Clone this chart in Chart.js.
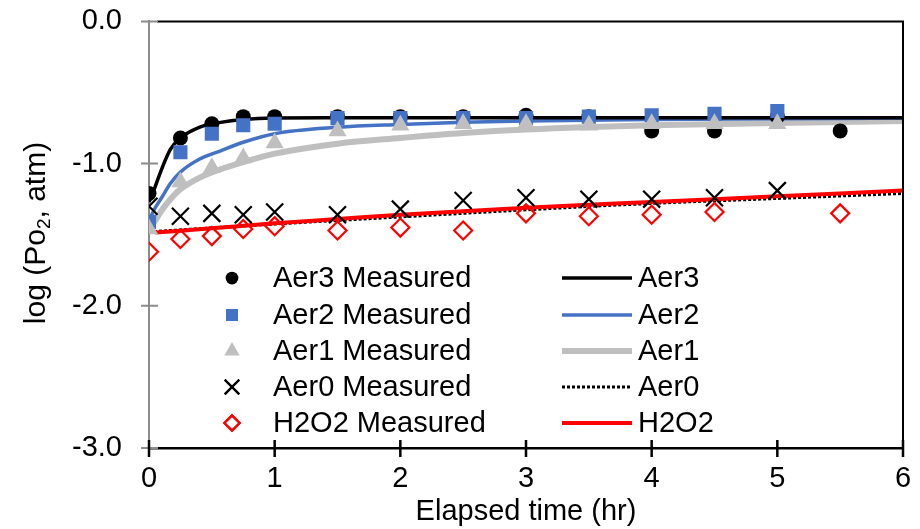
<!DOCTYPE html>
<html>
<head>
<meta charset="utf-8">
<script src="https://cdn.jsdelivr.net/npm/chart.js@4.4.1/dist/chart.umd.min.js"></script>
<style>
  html, body { margin: 0; padding: 0; background: #fff; }
  #wrap { width: 920px; height: 529px; }
</style>
</head>
<body>
<div id="wrap"><canvas id="chart"></canvas></div>
<script>
// Measured log(Po2) values.
const measTime = [0, 0.25, 0.5, 0.75, 1, 1.5, 2, 2.5, 3, 3.5, 4, 4.5, 5, 5.5];
const aer3Meas = [-1.21, -0.82, -0.72, -0.67, -0.67, -0.67, -0.67, -0.67, -0.66, -0.67, -0.77, -0.77, -0.67, -0.77];
const aer2Meas = [-1.41, -0.92, -0.79, -0.73, -0.72, -0.68, -0.68, -0.68, -0.68, -0.67, -0.66, -0.65, -0.63];
const aer1Meas = [-1.46, -1.13, -1.03, -0.96, -0.855, -0.77, -0.73, -0.72, -0.72, -0.73, -0.72, -0.72, -0.72];
const aer0Meas = [-1.30, -1.37, -1.35, -1.36, -1.34, -1.36, -1.32, -1.26, -1.24, -1.25, -1.25, -1.24, -1.19];
const h2o2Time = [0, 0.25, 0.5, 0.75, 1, 1.5, 2, 2.5, 3, 3.5, 4, 4.5, 5.5];
const h2o2Meas = [-1.62, -1.53, -1.51, -1.46, -1.44, -1.47, -1.45, -1.47, -1.35, -1.37, -1.36, -1.34, -1.35];

// Model curves.
const fitTime = [0, 0.05, 0.1, 0.17, 0.25, 0.4, 0.57, 0.75, 1, 1.5, 2, 2.5, 3, 4, 5, 6];
const aer3Fit = [-1.27, -1.16, -1.04, -0.90, -0.82, -0.745, -0.71, -0.69, -0.68, -0.678, -0.678, -0.678, -0.678, -0.678, -0.678, -0.678];
const aer2Fit = [-1.40, -1.31, -1.24, -1.14, -1.06, -0.97, -0.91, -0.85, -0.79, -0.745, -0.725, -0.71, -0.70, -0.69, -0.685, -0.68];
const aer1Fit = [-1.47, -1.40, -1.33, -1.25, -1.18, -1.10, -1.04, -0.99, -0.93, -0.86, -0.82, -0.785, -0.76, -0.73, -0.715, -0.70];
const aer0Time = [0, 1, 2, 3, 4, 5, 6];
const aer0Fit = [-1.48, -1.425, -1.375, -1.325, -1.28, -1.245, -1.21];
const h2o2FitTime = [0.05, 0.5, 1, 1.5, 2, 3, 4, 5, 6];
const h2o2Fit = [-1.485, -1.455, -1.42, -1.39, -1.36, -1.31, -1.27, -1.23, -1.19];

const xTicks = [0, 1, 2, 3, 4, 5, 6];
const yTicks = [0, -1, -2, -3];

const FONT = "'Liberation Sans', Arial, sans-serif";
const BLUE = '#4472c4';
const GRAY = '#bfbfbf';
const RED = '#ff0000';

const pts = (xs, ys) => ys.map((y, i) => ({ x: xs[i], y }));

const marker = (label, xs, ys, style, color, radius, order, hollow) => ({
  label,
  data: pts(xs, ys),
  showLine: false,
  pointStyle: style,
  pointRadius: radius,
  pointHoverRadius: radius,
  pointBackgroundColor: hollow ? 'rgba(0,0,0,0)' : color,
  pointBorderColor: color,
  pointBorderWidth: hollow || style === 'crossRot' ? 2.2 : 0,
  order,
});

const curve = (label, xs, ys, color, width, order, dash) => ({
  label,
  data: pts(xs, ys),
  showLine: true,
  borderColor: color,
  borderWidth: width,
  borderDash: dash || [],
  pointRadius: 0,
  pointHoverRadius: 0,
  cubicInterpolationMode: 'monotone',
  order,
});

const datasets = [
  marker('Aer3 Measured', measTime, aer3Meas, 'circle', '#000', 7.5, 5),
  marker('Aer2 Measured', measTime, aer2Meas, 'rect', BLUE, 10, 4),
  marker('Aer1 Measured', measTime, aer1Meas, 'triangle', GRAY, 10.5, 3),
  marker('Aer0 Measured', measTime, aer0Meas, 'crossRot', '#000', 12, 2),
  marker('H2O2 Measured', h2o2Time, h2o2Meas, 'rectRot', RED, 9, 1, true),
  curve('Aer3', fitTime, aer3Fit, '#000', 3.5, 7),
  curve('Aer2', fitTime, aer2Fit, BLUE, 3.5, 8),
  curve('Aer1', fitTime, aer1Fit, GRAY, 6, 9),
  curve('Aer0', aer0Time, aer0Fit, '#000', 3, 10, [3, 2]),
  curve('H2O2', h2o2FitTime, h2o2Fit, RED, 4, 6),
];

// Cross ticks, top/right frame, y title with subscript, two-column legend.
const decorations = {
  id: 'decorations',
  afterDraw(chart) {
    const { ctx, chartArea: a, scales: { x, y } } = chart;
    ctx.save();
    ctx.lineWidth = 2;
    ctx.strokeStyle = '#000';
    ctx.beginPath();
    ctx.moveTo(a.left + 8, a.top); ctx.lineTo(a.right, a.top); ctx.lineTo(a.right, a.bottom);
    ctx.stroke();
    ctx.strokeStyle = '#8c8c8c';
    ctx.beginPath();
    for (const v of yTicks) {
      const py = y.getPixelForValue(v);
      ctx.moveTo(a.left - 8, py); ctx.lineTo(a.left + 9, py);
    }
    ctx.stroke();
    ctx.strokeStyle = '#000';
    ctx.lineWidth = 2.5;
    ctx.beginPath();
    for (const v of xTicks) {
      const px = x.getPixelForValue(v);
      ctx.moveTo(px, a.bottom - 8); ctx.lineTo(px, a.bottom + 9);
    }
    ctx.stroke();

    // y title
    ctx.fillStyle = '#000';
    ctx.translate(37, 233);
    ctx.rotate(-Math.PI / 2);
    ctx.textBaseline = 'middle';
    const big = `30px ${FONT}`, small = `19px ${FONT}`;
    const parts = [['log (Po', big, 0], ['2', small, 8], [', atm)', big, 0]];
    let w = 0;
    for (const [t, f] of parts) { ctx.font = f; w += ctx.measureText(t).width; }
    let cx = -w / 2;
    for (const [t, f, dy] of parts) {
      ctx.font = f;
      ctx.fillText(t, cx, dy);
      cx += ctx.measureText(t).width;
    }
    ctx.setTransform(1, 0, 0, 1, 0, 0);

    // legend
    const rowY = [278, 315, 351, 387, 423];
    ctx.font = `29px ${FONT}`;
    ctx.textBaseline = 'middle';
    ctx.textAlign = 'left';
    for (let i = 0; i < 5; i++) {
      const m = chart.data.datasets[i];
      ctx.fillStyle = m.pointBackgroundColor;
      ctx.strokeStyle = m.pointBorderColor;
      ctx.lineWidth = m.pointBorderWidth;
      Chart.helpers.drawPoint(ctx, { pointStyle: m.pointStyle, radius: m.pointRadius * 0.85, borderWidth: m.pointBorderWidth }, 232, rowY[i]);
      if (m.pointBorderWidth) ctx.stroke();
      ctx.fillStyle = '#000';
      ctx.fillText(m.label, 273, rowY[i] + 1);

      const c = chart.data.datasets[i + 5];
      ctx.strokeStyle = c.borderColor;
      ctx.lineWidth = c.borderWidth;
      ctx.setLineDash(c.borderDash);
      ctx.beginPath();
      ctx.moveTo(562, rowY[i]); ctx.lineTo(632, rowY[i]);
      ctx.stroke();
      ctx.setLineDash([]);
      ctx.fillStyle = '#000';
      ctx.fillText(c.label, 638, rowY[i] + 1);
    }
    ctx.restore();
  },
};

new Chart(document.getElementById('chart'), {
  type: 'scatter',
  data: { datasets },
  plugins: [decorations],
  options: {
    responsive: true,
    maintainAspectRatio: false,
    animation: false,
    layout: { padding: { top: 0, right: 17, left: 0, bottom: 0 } },
    plugins: { legend: { display: false }, tooltip: { enabled: false } },
    scales: {
      x: {
        type: 'linear', min: 0, max: 6,
        afterFit: s => { s.height = 81; },
        afterBuildTicks: s => { s.ticks = xTicks.map(v => ({ value: v })); },
        grid: { display: true, drawOnChartArea: false, drawTicks: true, tickLength: 8, color: 'rgba(0,0,0,0)' },
        border: { display: true, color: '#000', width: 2.5 },
        ticks: { color: '#000', font: { family: FONT, size: 29 }, padding: 6, maxRotation: 0 },
        title: { display: true, text: 'Elapsed time (hr)', color: '#000', font: { family: FONT, size: 29 }, padding: { top: 0, bottom: 0 } },
      },
      y: {
        type: 'linear', min: -3, max: 0,
        afterFit: s => { s.width = 149; },
        afterBuildTicks: s => { s.ticks = yTicks.map(v => ({ value: v })); },
        grid: { display: true, drawOnChartArea: false, drawTicks: true, tickLength: 23, color: 'rgba(0,0,0,0)' },
        border: { display: true, color: '#8c8c8c', width: 2 },
        ticks: { color: '#000', font: { family: FONT, size: 29 }, padding: 4, callback: v => v.toFixed(1) },
      },
    },
  },
});
</script>
</body>
</html>
